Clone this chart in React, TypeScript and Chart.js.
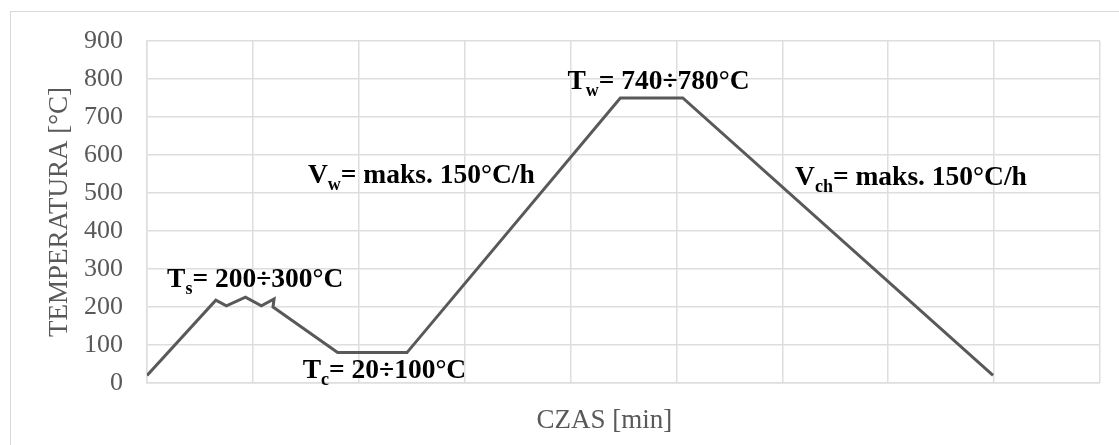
import React, { useEffect, useRef } from "react";
import { Chart, registerables } from "chart.js";

Chart.register(...registerables);

// Heating cycle profile: time in grid units, temperature in °C
const timeSteps = [0, 0.65, 0.75, 0.93, 1.08, 1.2, 1.19, 1.8, 2.455, 4.47, 5.06, 7.99];
const temperatures = [20, 218, 203, 226, 203, 221, 200, 80, 80, 750, 750, 20];
const yTicks = [0, 100, 200, 300, 400, 500, 600, 700, 800, 900];

// Annotation texts: main part, subscript, rest, anchor (time, temperature)
const labelMain = ["T", "T", "T", "V", "V"];
const labelSub = ["s", "c", "w", "w", "ch"];
const labelRest = ["= 200÷300°C", "= 20÷100°C", "= 740÷780°C", "= maks. 150°C/h", "= maks. 150°C/h"];
const labelTime = [0.19, 1.47, 3.97, 1.52, 6.12];
const labelTemp = [252, 13, 774, 526, 521];

const SERIF = "'Liberation Serif', 'Times New Roman', serif";

const decorPlugin = {
  id: "decor",
  beforeDraw(chart: any) {
    const ctx = chart.ctx;
    ctx.save();
    ctx.fillStyle = "#ffffff";
    ctx.fillRect(0, 0, chart.width, chart.height);
    ctx.strokeStyle = "#d9d9d9";
    ctx.lineWidth = 1;
    ctx.strokeRect(10.5, 11.5, chart.width + 50, chart.height + 50);
    ctx.restore();
  },
  afterDraw(chart: any) {
    const ctx = chart.ctx;
    const xs = chart.scales.x;
    const ys = chart.scales.y;
    const area = chart.chartArea;
    ctx.save();
    // axis titles
    ctx.fillStyle = "#595959";
    ctx.font = `27px ${SERIF}`;
    ctx.textAlign = "center";
    ctx.textBaseline = "middle";
    ctx.fillText("CZAS [min]", area.left + (area.right - area.left) * 0.48, 421);
    ctx.translate(60, (area.top + area.bottom) / 2);
    ctx.rotate(-Math.PI / 2);
    ctx.fillText("TEMPERATURA [°C]", 0, 0);
    ctx.restore();

    ctx.save();
    ctx.fillStyle = "#000000";
    ctx.textAlign = "left";
    ctx.textBaseline = "alphabetic";
    for (let i = 0; i < labelMain.length; i++) {
      let x = xs.getPixelForValue(labelTime[i]);
      const y = ys.getPixelForValue(labelTemp[i]);
      ctx.font = `bold 27.5px ${SERIF}`;
      ctx.fillText(labelMain[i], x, y);
      x += ctx.measureText(labelMain[i]).width;
      ctx.font = `bold 18px ${SERIF}`;
      ctx.fillText(labelSub[i], x, y + 7);
      x += ctx.measureText(labelSub[i]).width;
      ctx.font = `bold 27.5px ${SERIF}`;
      ctx.fillText(labelRest[i], x, y);
    }
    ctx.restore();
  },
};

export default function App() {
  const canvasRef = useRef<HTMLCanvasElement | null>(null);

  useEffect(() => {
    if (!canvasRef.current) return;
    const chart = new Chart(canvasRef.current, {
      type: "line",
      data: {
        datasets: [
          {
            data: timeSteps.map((t, i) => ({ x: t, y: temperatures[i] })),
            borderColor: "#595959",
            borderWidth: 3,
            pointRadius: 0,
            tension: 0,
            fill: false,
          },
        ],
      },
      options: {
        animation: false,
        responsive: false,
        maintainAspectRatio: false,
        layout: { padding: { left: 0, right: 19, top: 41, bottom: 0 } },
        plugins: {
          legend: { display: false },
          tooltip: { enabled: false },
        },
        scales: {
          x: {
            type: "linear",
            min: 0,
            max: 9,
            ticks: { stepSize: 1, display: false },
            grid: { color: "#dedede", lineWidth: 1.5, drawTicks: false },
            border: { display: true, color: "#dedede", width: 1.5 },
            afterFit(scale: any) {
              scale.height = 62;
            },
          },
          y: {
            type: "linear",
            min: 0,
            max: 900,
            afterBuildTicks(scale: any) {
              scale.ticks = yTicks.map((v) => ({ value: v }));
            },
            ticks: {
              padding: 24,
              color: "#595959",
              font: { family: SERIF, size: 26 },
            },
            grid: { color: "#dedede", lineWidth: 1.5, drawTicks: false },
            border: { display: true, color: "#dedede", width: 1.5 },
            afterFit(scale: any) {
              scale.width = 147;
            },
          },
        },
      },
      plugins: [decorPlugin],
    });
    return () => chart.destroy();
  }, []);

  return (
    <div style={{ position: "fixed", left: 0, top: 0, width: 1119, height: 445, background: "#fff" }}>
      <canvas ref={canvasRef} width={1119} height={445} style={{ width: 1119, height: 445 }} />
    </div>
  );
}
